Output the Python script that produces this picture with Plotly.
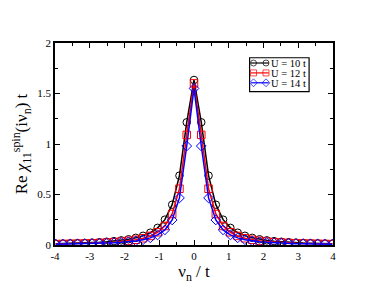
import plotly.graph_objects as go

# Matsubara frequency index and spacing (beta = 30)
n_index = list(range(-19, 20))
nu_step = 0.20944
nu = [round(k * nu_step, 4) for k in n_index]

# positive-half values (n = 0..19), mirrored
u10_half = [1.634, 1.215, 0.687, 0.399, 0.251, 0.170, 0.122, 0.0914, 0.0709, 0.0566,
            0.0461, 0.0383, 0.0323, 0.0276, 0.0239, 0.0208, 0.0183, 0.0163, 0.0145, 0.0131]
u12_half = [1.600, 1.090, 0.557, 0.307, 0.188, 0.126, 0.0896, 0.0669, 0.0517, 0.0411,
            0.0335, 0.0278, 0.0234, 0.0200, 0.0173, 0.0151, 0.0132, 0.0117, 0.0105, 0.0094]
u14_half = [1.550, 0.980, 0.466, 0.248, 0.150, 0.0997, 0.0706, 0.0525, 0.0405, 0.0322,
            0.0262, 0.0217, 0.0183, 0.0156, 0.0135, 0.0117, 0.0103, 0.0092, 0.0082, 0.0073]

labels = ["U = 10 t", "U = 12 t", "U = 14 t"]
colors = ["black", "red", "blue"]
symbols = ["circle-open", "square-open", "diamond-open"]

x_tickvals = [-4, -3, -2, -1, 0, 1, 2, 3, 4]
x_ticktext = ["-4", "-3", "-2", "-1", "0", "1", "2", "3", "4"]
y_tickvals = [0, 0.5, 1, 1.5, 2]
y_ticktext = ["0", "0.5", "1", "1.5", "2"]

def mirror(half):
    return half[:0:-1] + half

values = [mirror(u10_half), mirror(u12_half), mirror(u14_half)]

font = "Liberation Serif"

fig = go.Figure()
for name, vals, col, sym in zip(labels, values, colors, symbols):
    fig.add_trace(go.Scatter(
        x=nu, y=vals, name=name, mode="lines+markers", showlegend=False,
        line=dict(color=col, width=1.5),
        marker=dict(symbol=sym, size=7.5, color=col, line=dict(color=col, width=1)),
    ))

# compact legend box drawn on an overlay axis (0..1 coordinates of the plot area)
fig.add_shape(type="rect", xref="paper", yref="paper", x0=0.700, x1=0.914,
              y0=0.759, y1=0.927, line=dict(color="black", width=1.2),
              fillcolor="white", layer="below")
leg_rows = [0.901, 0.852, 0.803]
for name, col, sym, ry in zip(labels, colors, symbols, leg_rows):
    fig.add_trace(go.Scatter(
        x=[0.705, 0.714, 0.759, 0.769], y=[ry] * 4, mode="lines+markers",
        showlegend=False, xaxis="x2", yaxis="y2", hoverinfo="skip",
        line=dict(color=col, width=1.2),
        marker=dict(symbol=sym, size=[0, 6, 6, 0], color=col, line=dict(color=col, width=1)),
    ))
    fig.add_annotation(x=0.775, y=ry, xref="paper", yref="paper", text=name,
                       showarrow=False, xanchor="left", yanchor="middle", height=10,
                       borderpad=0, font=dict(family=font, size=10.5, color="black"))

axis_common = dict(
    showgrid=False, zeroline=False, showline=True, linecolor="black", linewidth=1.5,
    mirror="allticks", ticks="inside", ticklen=5, tickcolor="black", tickwidth=1,
    tickfont=dict(family=font, size=11, color="black"),
)
# body has an 8px default margin in the page: compensate so the plot box sits at 43..333 / 43..245
fig.update_layout(
    width=374, height=289,
    margin=dict(l=35, r=49, t=35, b=52),
    paper_bgcolor="white", plot_bgcolor="white",
    font=dict(family=font, color="black"),
    xaxis=dict(range=[-4, 4], tickvals=x_tickvals, ticktext=x_ticktext, **axis_common,
               minor=dict(ticks="inside", ticklen=3, dtick=0.5, tickcolor="black"),
               title=dict(text="ν<sub>n</sub> / t", font=dict(family=font, size=17), standoff=0)),
    yaxis=dict(range=[0, 2], tickvals=y_tickvals, ticktext=y_ticktext, **axis_common,
               minor=dict(ticks="inside", ticklen=3, dtick=0.25, tickcolor="black"),
               title=dict(text="Re <i>χ</i><sub>11</sub><sup>spin</sup>(iν<sub>n</sub>) t",
                          font=dict(family=font, size=17), standoff=5)),
    xaxis2=dict(range=[0, 1], domain=[0, 1], overlaying="x", visible=False),
    yaxis2=dict(range=[0, 1], domain=[0, 1], overlaying="y", visible=False),
    showlegend=False,
)

fig.write_html("out.html")
